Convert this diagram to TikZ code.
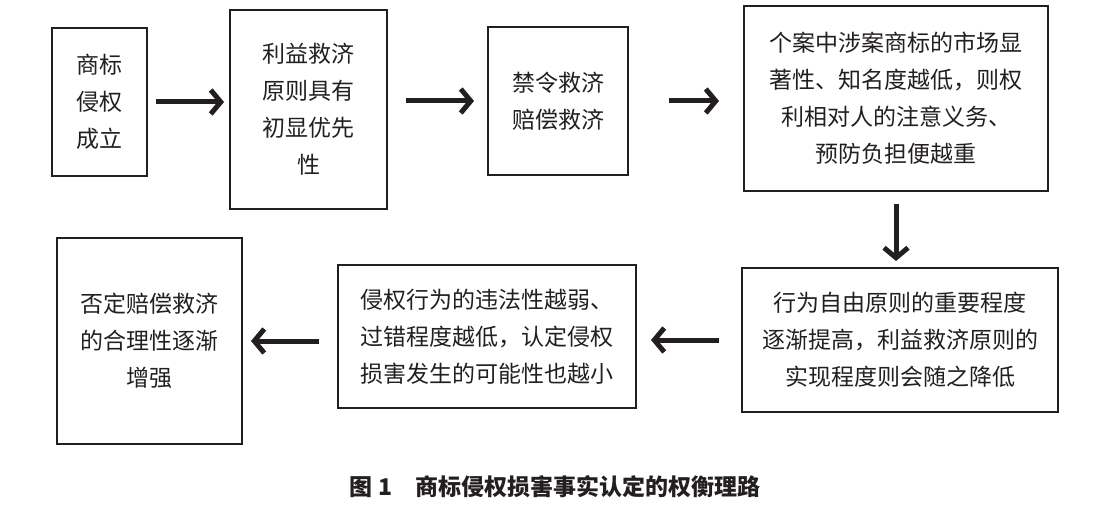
\documentclass[tikz,border=0pt]{standalone}
\usepackage{fontspec}
\setmainfont{Noto Sans CJK SC}
\usepackage{tikz}
\usetikzlibrary{arrows,arrows.meta}
\usepackage{xcolor}
\definecolor{ink}{RGB}{35,31,32}
\tikzstyle{box}=[draw=ink, line width=1pt, inner sep=0pt, align=center, text=ink, font=\fontsize{11.5pt}{18.5pt}\selectfont]
\tikzstyle{flow}=[draw=ink, line width=2.5pt, -{Straight Barb[length=5pt,width=12pt]}]
\begin{document}
\begin{tikzpicture}[x=0.5pt, y=-0.5pt]
	\useasboundingbox (0,0) rectangle (1111,513);
%
	\node[box, minimum width=95*0.5pt, minimum height=148*0.5pt] (infringe) at (99.5,102) {商标\\侵权\\成立};
	\node[box, minimum width=157*0.5pt, minimum height=199*0.5pt] (remedy) at (308.5,109.5) {利益救济\\原则具有\\初显优先\\性};
	\node[box, minimum width=140*0.5pt, minimum height=148*0.5pt] (relief) at (558,101) {禁令救济\\赔偿救济};
	\node[box, minimum width=304*0.5pt, minimum height=185*0.5pt] (duty) at (896,98.5) {个案中涉案商标的市场显\\著性、知名度越低，则权\\利相对人的注意义务、\\预防负担便越重};
	\node[box, minimum width=316*0.5pt, minimum height=144*0.5pt] (freedom) at (900,340) {行为自由原则的重要程度\\逐渐提高，利益救济原则的\\实现程度则会随之降低};
	\node[box, minimum width=298*0.5pt, minimum height=143*0.5pt] (fault) at (487,336.5) {侵权行为的违法性越弱、\\过错程度越低，认定侵权\\损害发生的可能性也越小};
	\node[box, minimum width=185*0.5pt, minimum height=206*0.5pt] (deny) at (149.5,341) {否定赔偿救济\\的合理性逐渐\\增强};
%
	\draw[flow, shorten <=4pt, shorten >=2.5pt] (infringe.east) -- (infringe.east -| remedy.west);
	\draw[flow, shorten <=9pt, shorten >=6.5pt] (remedy.east |- relief.east) -- (relief.west);
	\draw[flow, shorten <=20pt, shorten >=12pt] (relief.east) -- (relief.east -| duty.west);
	\draw[flow, shorten <=6pt, shorten >=3pt] (duty.south) -- (duty.south |- freedom.north);
	\draw[flow, shorten <=11pt, shorten >=7pt] (freedom.west) -- (freedom.west -| fault.east);
	\draw[flow, shorten <=9pt, shorten >=4pt] (fault.west |- deny.east) -- (deny.east);
%
	\node[text=ink, font=\fontsize{11.5pt}{14pt}\selectfont\bfseries] (caption) at (555,487) {图 1\quad 商标侵权损害事实认定的权衡理路};
\end{tikzpicture}
\end{document}
